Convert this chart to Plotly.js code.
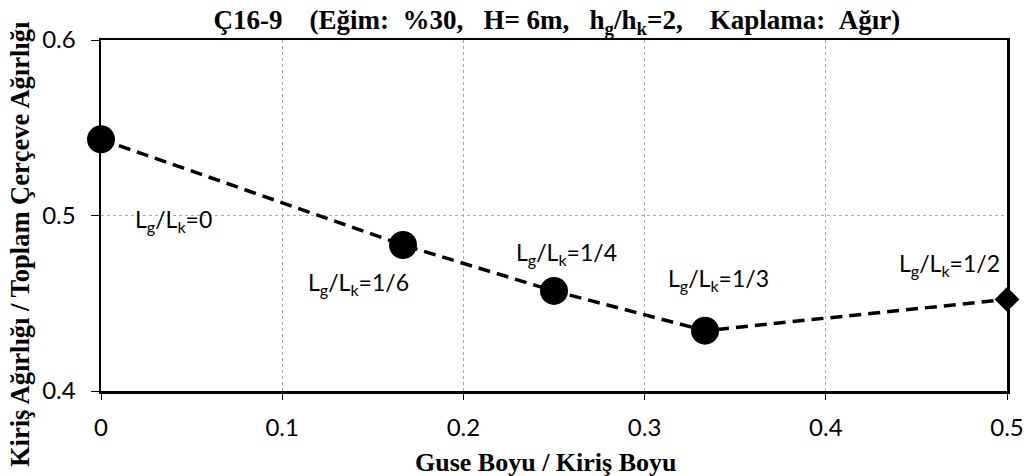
<!DOCTYPE html>
<html>
<head>
<meta charset="utf-8">
<script src="https://cdn.plot.ly/plotly-3.0.1.min.js"></script>
<style>
html,body{margin:0;padding:0;background:#fff;}
#chart{width:1034px;height:476px;}
</style>
</head>
<body>
<div id="chart"></div>
<script>
// Data
const ratioX = [0, 1/6, 0.25, 1/3, 0.5];
const weightRatio = [0.5434, 0.4832, 0.457, 0.4344, 0.4522];
const markerSymbols = ['circle', 'circle', 'circle', 'circle', 'diamond'];
const pointLabels = ['L<sub>g</sub>/L<sub>k</sub>=0', 'L<sub>g</sub>/L<sub>k</sub>=1/6', 'L<sub>g</sub>/L<sub>k</sub>=1/4', 'L<sub>g</sub>/L<sub>k</sub>=1/3', 'L<sub>g</sub>/L<sub>k</sub>=1/2'];
const labelX = [0.0398, 0.142, 0.2569, 0.341, 0.468];
const labelY = [0.4969, 0.4615, 0.4781, 0.4638, 0.4718];
const xTitle = 'Guse Boyu / Kiriş Boyu';
const yTitle = 'Kiriş Ağırlığı / Toplam Çerçeve Ağırlığı';

const markerSizes = [28, 28, 28, 28, 19];
const serif = '"Liberation Serif", "Times New Roman", serif';
const sans = 'Lato, "Open Sans", sans-serif';

const trace = {
  x: ratioX, y: weightRatio, type: 'scatter', mode: 'lines+markers',
  line: {color: '#000', width: 3.5, dash: '12px,7px'},
  marker: {color: '#000', symbol: markerSymbols, size: markerSizes, opacity: 1, line: {color: '#000', width: 0}},
  opacity: 1, cliponaxis: false, showlegend: false, hoverinfo: 'none'
};

const annotations = pointLabels.map((t, i) => ({
  x: labelX[i], y: labelY[i], xref: 'x', yref: 'y', text: t, showarrow: false,
  font: {family: sans, size: 23, color: '#000'}, xanchor: 'center', yanchor: 'middle'
}));
annotations.push({
  x: 0.491, y: -0.2023, xref: 'paper', yref: 'paper', text: xTitle, showarrow: false,
  font: {family: serif, size: 26, color: '#000', weight: 'bold'}, xanchor: 'center', yanchor: 'middle'
});
annotations.push({
  x: -0.0894, y: 0.416, xref: 'paper', yref: 'paper', text: yTitle, showarrow: false, textangle: -90,
  font: {family: serif, size: 26.5, color: '#000', weight: 'bold'}, xanchor: 'center', yanchor: 'middle'
});

const nb = '&nbsp;';
const titleText = 'Ç16-9' + nb.repeat(4) + '(Eğim:' + nb.repeat(2) + '%30,' + nb.repeat(3) + 'H=' + nb + '6m,' + nb.repeat(3) +
  'h<sub>g</sub>/h<sub>k</sub>=2,' + nb.repeat(4) + 'Kaplama:' + nb.repeat(2) + 'Ağır)';

const layout = {
  width: 1034, height: 476,
  margin: {l: 101, r: 27, t: 40, b: 85},
  paper_bgcolor: '#fff', plot_bgcolor: '#fff',
  title: {text: titleText,
    font: {family: serif, size: 27, color: '#000', weight: 'bold'}, x: 0.5385, xanchor: 'center', y: 0.958, yanchor: 'middle'},
  xaxis: {
    range: [0, 0.5], dtick: 0.1, tick0: 0, showline: true, linecolor: '#000', linewidth: 2.5, mirror: true,
    ticks: 'outside', ticklen: 6, tickcolor: '#000', tickwidth: 1,
    showgrid: true, gridcolor: '#aaa', gridwidth: 1, griddash: 'dot', zeroline: false,
    tickfont: {family: sans, size: 24, color: '#000'}, ticklabelstandoff: 8
  },
  yaxis: {
    range: [0.4, 0.6], dtick: 0.1, tick0: 0.4, showline: true, linecolor: '#000', linewidth: 2.5, mirror: true,
    ticks: 'outside', ticklen: 8, tickcolor: '#000', tickwidth: 1,
    showgrid: true, gridcolor: '#aaa', gridwidth: 1, griddash: 'dot', zeroline: false,
    tickfont: {family: sans, size: 24, color: '#000'}, ticklabelstandoff: 10, tickformat: '.1f'
  },
  annotations: annotations
};

Plotly.newPlot('chart', [trace], layout, {staticPlot: true, displayModeBar: false});
</script>
</body>
</html>
